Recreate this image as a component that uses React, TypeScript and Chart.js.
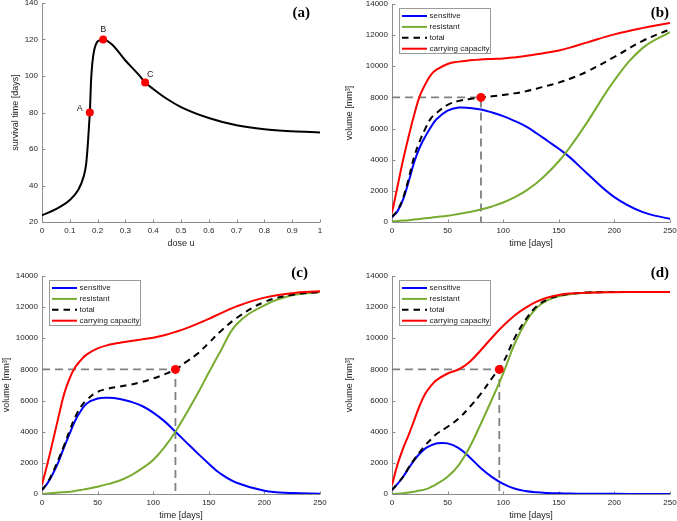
import React, { useEffect, useRef } from 'react';
import { Chart, registerables } from 'chart.js';
Chart.register(...registerables);

// ---------------- panel (a): survival time vs dose ----------------
const doseU = [0, 0.05, 0.1, 0.13, 0.15, 0.159, 0.165, 0.169, 0.173, 0.176, 0.181, 0.188, 0.197, 0.21, 0.22, 0.25, 0.3, 0.35, 0.371, 0.4, 0.45, 0.5, 0.6, 0.7, 0.8, 0.9, 1.0];
const survivalDays = [23.7, 27, 32, 37.5, 45, 52, 63, 72.4, 83, 96, 107, 114.4, 118.4, 119.6, 120, 117.5, 108.5, 100.3, 96.5, 92.9, 87.4, 83, 77, 73, 70.8, 69.7, 69.1];
const markerDose = [0.172, 0.22, 0.371];
const markerSurvival = [80, 120, 96.5];
const markerNames = ['A', 'B', 'C'];

// ---------------- panels (b)-(d): volume vs time ----------------
const timeDays = [0, 5, 10, 15, 20, 25, 30, 35, 40, 50, 60, 70, 80, 90, 100, 110, 120, 130, 140, 150, 160, 175, 200, 225, 250];

const sensitiveB = [300, 700, 1450, 2600, 3850, 4800, 5500, 6100, 6600, 7150, 7350, 7320, 7220, 7030, 6800, 6500, 6150, 5700, 5200, 4700, 4150, 3150, 1600, 650, 200];
const resistantB = [30, 60, 90, 120, 160, 200, 240, 280, 320, 400, 520, 640, 800, 1000, 1250, 1580, 1980, 2500, 3150, 3900, 4800, 6350, 9100, 11150, 12200];
const totalB = [330, 760, 1550, 2800, 4200, 5200, 6000, 6650, 7000, 7520, 7780, 7900, 8000, 8070, 8160, 8260, 8390, 8560, 8760, 8950, 9200, 9650, 10600, 11620, 12370];
const capacityB = [600, 2300, 4000, 5500, 6900, 8100, 8850, 9450, 9780, 10150, 10300, 10380, 10440, 10470, 10500, 10570, 10660, 10770, 10880, 11020, 11200, 11520, 12050, 12450, 12780];

const sensitiveC = [256, 700, 1330, 2100, 3030, 3900, 4740, 5350, 5800, 6130, 6180, 6100, 5920, 5650, 5230, 4680, 4000, 3300, 2610, 1950, 1330, 720, 210, 60, 20];
const resistantC = [0, 30, 60, 90, 120, 150, 200, 260, 320, 470, 650, 870, 1200, 1650, 2180, 3000, 4000, 5200, 6450, 7800, 9100, 10900, 12120, 12760, 12970];
const totalC = [260, 730, 1430, 2250, 3140, 4100, 4960, 5600, 6030, 6560, 6770, 6900, 7030, 7200, 7420, 7680, 8000, 8500, 9020, 9700, 10410, 11300, 12330, 12800, 12970];
const capacityC = [600, 1970, 3460, 5000, 6450, 7450, 8150, 8600, 8950, 9350, 9580, 9720, 9820, 9930, 10040, 10200, 10410, 10650, 10940, 11250, 11580, 12050, 12610, 12900, 13020];

const sensitiveD = [256, 650, 1110, 1650, 2180, 2600, 2930, 3120, 3250, 3250, 2950, 2350, 1650, 1080, 650, 350, 190, 107, 65, 43, 30, 20, 10, 5, 0];
const resistantD = [0, 20, 50, 90, 150, 220, 300, 450, 640, 1110, 1860, 3030, 4530, 6100, 7750, 9600, 11000, 11950, 12450, 12700, 12830, 12930, 12970, 12970, 12970];
const totalD = [256, 670, 1110, 1700, 2220, 2700, 3140, 3500, 3850, 4320, 4850, 5600, 6450, 7450, 8450, 9980, 11180, 12050, 12500, 12730, 12850, 12940, 12970, 12970, 12970];
const capacityD = [580, 1900, 2930, 3800, 4740, 5700, 6450, 6950, 7310, 7740, 8000, 8500, 9250, 10050, 10800, 11450, 11950, 12350, 12620, 12780, 12870, 12930, 12960, 12970, 12970];

const thresholdVolume = 8000;
const crossTimeB = 80;
const crossTimeC = 120;
const crossTimeD = 96.5;

// ---------------- styling ----------------
const BLUE = '#0000ff';
const GREEN = '#77ac30';
const RED = '#ff0000';
const GREY = '#808080';
const AXIS = '#8c8c8c';
const TEXT = '#222222';
const FONT = '"Liberation Sans", Arial, Helvetica, sans-serif';

type Panel = {
  L: number; T: number; W: number; H: number;
  padTop: number; padRight: number; yw: number; xh: number;
  yTitlePad: number; label: string; labelRight: number; labelY: number;
};

const panelA: Panel = { L: -10, T: -20, W: 350, H: 280, padTop: 23, padRight: 20, yw: 52, xh: 38, yTitlePad: 20, label: '(a)', labelRight: 310, labelY: 13 };
const panelB: Panel = { L: 340, T: -20, W: 350, H: 280, padTop: 24, padRight: 20, yw: 52, xh: 38, yTitlePad: 4.3, label: '(b)', labelRight: 669, labelY: 13 };
const panelC: Panel = { L: -10, T: 256, W: 350, H: 276, padTop: 20, padRight: 20, yw: 52, xh: 38, yTitlePad: 11.6, label: '(c)', labelRight: 308, labelY: 273 };
const panelD: Panel = { L: 340, T: 256, W: 350, H: 276, padTop: 20, padRight: 20, yw: 52, xh: 38, yTitlePad: 4.3, label: '(d)', labelRight: 669, labelY: 273 };

const matlabPlugin = {
  id: 'matlab',
  beforeDatasetsDraw(chart: any) {
    const { ctx, chartArea } = chart;
    const { left, right, top, bottom } = chartArea;
    const xs = chart.scales.x;
    const ys = chart.scales.y;
    ctx.save();
    ctx.strokeStyle = AXIS;
    ctx.lineWidth = 1;
    ctx.setLineDash([]);
    ctx.beginPath();
    const lx = Math.round(left) + 0.5;
    const by = Math.round(bottom) + 0.5;
    ctx.moveTo(lx, top);
    ctx.lineTo(lx, by);
    ctx.lineTo(right, by);
    xs.ticks.forEach((t: any) => {
      const px = Math.round(xs.getPixelForValue(t.value)) + 0.5;
      ctx.moveTo(px, by);
      ctx.lineTo(px, by - 3);
    });
    ys.ticks.forEach((t: any) => {
      const py = Math.round(ys.getPixelForValue(t.value)) + 0.5;
      ctx.moveTo(lx, py);
      ctx.lineTo(lx + 3, py);
    });
    ctx.stroke();
    ctx.restore();
  },
  afterDatasetsDraw(chart: any, _args: any, opts: any) {
    const { ctx, chartArea } = chart;
    const { left, top } = chartArea;
    ctx.save();
    // point labels
    chart.data.datasets.forEach((ds: any, di: number) => {
      if (!ds.pointNames) return;
      const meta = chart.getDatasetMeta(di);
      meta.data.forEach((el: any, i: number) => {
        const off = ds.pointNameOffsets[i];
        ctx.fillStyle = TEXT;
        ctx.font = `9px ${FONT}`;
        ctx.textAlign = 'center';
        ctx.textBaseline = 'middle';
        ctx.fillText(ds.pointNames[i], el.x + off[0], el.y + off[1]);
      });
    });
    // legend
    const entries = chart.data.datasets.filter((d: any) => d.legendText);
    if (entries.length) {
      const bx = Math.round(left + 7) + 0.5;
      const by = Math.round(top + 4) + 0.5;
      const bw = 91;
      const bh = 45;
      ctx.fillStyle = '#ffffff';
      ctx.fillRect(bx, by, bw, bh);
      ctx.strokeStyle = '#9a9a9a';
      ctx.lineWidth = 1;
      ctx.setLineDash([]);
      ctx.strokeRect(bx, by, bw, bh);
      entries.forEach((e: any, i: number) => {
        const yy = by + 7.5 + i * 10.9;
        ctx.strokeStyle = e.borderColor;
        ctx.lineWidth = 2;
        ctx.setLineDash(e.borderDash || []);
        ctx.beginPath();
        ctx.moveTo(bx + 2.5, yy);
        ctx.lineTo(bx + 27.5, yy);
        ctx.stroke();
        ctx.setLineDash([]);
        ctx.fillStyle = TEXT;
        ctx.font = `8px ${FONT}`;
        ctx.textAlign = 'left';
        ctx.textBaseline = 'middle';
        ctx.fillText(e.legendText, bx + 30, yy);
      });
    }
    // panel label
    if (opts && opts.label) {
      ctx.fillStyle = '#000000';
      ctx.font = 'bold 15px "Liberation Serif", "Times New Roman", serif';
      ctx.textAlign = 'right';
      ctx.textBaseline = 'middle';
      ctx.fillText(opts.label, opts.x, opts.y);
    }
    ctx.restore();
  },
};

function baseOptions(p: Panel, xCfg: any, yCfg: any, xTitle: string, yTitle: string) {
  return {
    responsive: false,
    animation: false,
    devicePixelRatio: 1,
    layout: { padding: { left: 0, top: p.padTop, right: p.padRight, bottom: 0 } },
    plugins: {
      legend: { display: false },
      tooltip: { enabled: false },
      matlab: { label: p.label, x: p.labelRight - p.L, y: p.labelY - p.T },
    },
    scales: {
      x: {
        type: 'linear',
        ...xCfg,
        grid: { display: false, drawTicks: false },
        border: { display: false },
        ticks: { ...xCfg.ticks, autoSkip: false, maxRotation: 0, padding: 4, color: TEXT, font: { family: FONT, size: 8 } },
        title: { display: true, text: xTitle, color: TEXT, font: { family: FONT, size: 9 }, padding: { top: 0, bottom: 10.6 } },
        afterFit: (s: any) => { s.height = p.xh; },
      },
      y: {
        type: 'linear',
        ...yCfg,
        grid: { display: false, drawTicks: false },
        border: { display: false },
        ticks: { ...yCfg.ticks, autoSkip: false, padding: 4, color: TEXT, font: { family: FONT, size: 8 } },
        title: { display: true, text: yTitle, color: TEXT, font: { family: FONT, size: 9 }, padding: { top: p.yTitlePad, bottom: 0 } },
        afterFit: (s: any) => { s.width = p.yw; },
      },
    },
  };
}

function configA() {
  return {
    type: 'line',
    data: {
      datasets: [
        {
          data: markerDose.map((u, i) => ({ x: u, y: markerSurvival[i] })),
          showLine: false,
          pointRadius: 4,
          pointBackgroundColor: RED,
          pointBorderColor: RED,
          pointBorderWidth: 0,
          order: 0,
          pointNames: markerNames,
          pointNameOffsets: [[-10, -4], [0, -10], [5, -8]],
        },
        {
          data: doseU.map((u, i) => ({ x: u, y: survivalDays[i] })),
          borderColor: '#000000',
          borderWidth: 2,
          pointRadius: 0,
          cubicInterpolationMode: 'monotone',
          order: 1,
        },
      ],
    },
    options: baseOptions(
      panelA,
      { min: 0, max: 1, ticks: { stepSize: 0.1, callback: (v: number) => String(Math.round(v * 10) / 10) } },
      { min: 20, max: 140, ticks: { stepSize: 20, callback: (v: number) => String(v) } },
      'dose u',
      'survival time [days]'
    ),
    plugins: [matlabPlugin],
  };
}

function configVolume(p: Panel, sens: number[], res: number[], tot: number[], cap: number[], crossT: number) {
  const pts = (ys: number[]) => timeDays.map((t, i) => ({ x: t, y: ys[i] }));
  const curve = { pointRadius: 0, borderWidth: 2, tension: 0.4, fill: false };
  return {
    type: 'line',
    data: {
      datasets: [
        { data: [{ x: crossT, y: thresholdVolume }], showLine: false, pointRadius: 4.5, pointBackgroundColor: RED, pointBorderColor: RED, pointBorderWidth: 0, order: 0 },
        { ...curve, data: pts(sens), borderColor: BLUE, order: 4, legendText: 'sensitive' },
        { ...curve, data: pts(res), borderColor: GREEN, order: 3, legendText: 'resistant' },
        { ...curve, data: pts(tot), borderColor: '#000000', borderDash: [6.5, 5], order: 2, legendText: 'total' },
        { ...curve, data: pts(cap), borderColor: RED, order: 1, legendText: 'carrying capacity' },
        {
          data: [{ x: 0, y: thresholdVolume }, { x: crossT, y: thresholdVolume }, { x: crossT, y: 0 }],
          borderColor: GREY, borderWidth: 1.8, borderDash: [8, 5], pointRadius: 0, tension: 0, order: 5,
        },
      ],
    },
    options: baseOptions(
      p,
      { min: 0, max: 250, ticks: { stepSize: 50, callback: (v: number) => String(v) } },
      { min: 0, max: 14000, ticks: { stepSize: 2000, callback: (v: number) => String(v) } },
      'time [days]',
      'volume [mm³]'
    ),
    plugins: [matlabPlugin],
  };
}

export default function App() {
  const refA = useRef<HTMLCanvasElement>(null);
  const refB = useRef<HTMLCanvasElement>(null);
  const refC = useRef<HTMLCanvasElement>(null);
  const refD = useRef<HTMLCanvasElement>(null);

  useEffect(() => {
    const charts = [
      new Chart(refA.current as any, configA() as any),
      new Chart(refB.current as any, configVolume(panelB, sensitiveB, resistantB, totalB, capacityB, crossTimeB) as any),
      new Chart(refC.current as any, configVolume(panelC, sensitiveC, resistantC, totalC, capacityC, crossTimeC) as any),
      new Chart(refD.current as any, configVolume(panelD, sensitiveD, resistantD, totalD, capacityD, crossTimeD) as any),
    ];
    return () => charts.forEach((c) => c.destroy());
  }, []);

  const panels: [Panel, React.RefObject<HTMLCanvasElement | null>][] = [
    [panelA, refA], [panelB, refB], [panelC, refC], [panelD, refD],
  ];

  return (
    <div style={{ position: 'fixed', left: 0, top: 0, width: 677, height: 521, overflow: 'hidden', background: '#ffffff' }}>
      {panels.map(([p, r], i) => (
        <div key={i} style={{ position: 'absolute', left: p.L, top: p.T, width: p.W, height: p.H }}>
          <canvas ref={r as any} width={p.W} height={p.H} style={{ display: 'block', width: p.W, height: p.H }} />
        </div>
      ))}
    </div>
  );
}
